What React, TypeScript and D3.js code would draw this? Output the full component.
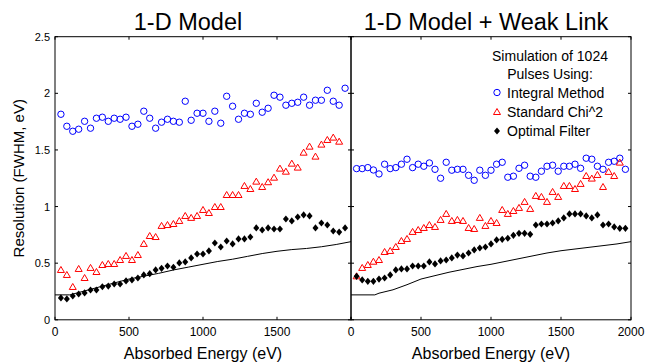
import React from "react";
import * as d3 from "d3";

// energies of the simulated pulses (eV)
const energies = [
  40, 80, 120, 160, 200, 240, 280, 320, 360, 400, 440, 480, 520, 560, 600, 640, 680,
  720, 760, 800, 840, 880, 920, 960, 1000, 1040, 1080, 1120, 1160, 1200, 1240, 1280,
  1320, 1360, 1400, 1440, 1480, 1520, 1560, 1600, 1640, 1680, 1720, 1760, 1800, 1840,
  1880, 1920, 1960,
];

// 1-D model
const leftIntegral = [
  1.815, 1.709, 1.665, 1.683, 1.753, 1.692, 1.78, 1.789, 1.753, 1.78, 1.771, 1.789, 1.709,
  1.727, 1.842, 1.78, 1.692, 1.745, 1.771, 1.753, 1.745, 1.93, 1.762, 1.824, 1.824, 1.753,
  1.842, 1.736, 1.974, 1.886, 1.771, 1.824, 1.815, 1.912, 1.833, 1.868, 1.983, 1.966, 1.895,
  1.912, 1.921, 1.966, 1.895, 1.939, 1.939, 2.027, 1.93, 1.895, 2.045,
];
const leftChi = [
  0.44, 0.396, 0.29, 0.449, 0.369, 0.458, 0.422, 0.484, 0.493, 0.493, 0.528, 0.564, 0.528,
  0.572, 0.67, 0.74, 0.731, 0.829, 0.837, 0.846, 0.873, 0.917, 0.9, 0.917, 0.97, 0.943,
  0.996, 0.996, 1.102, 1.102, 1.102, 1.182, 1.155, 1.22, 1.173, 1.215, 1.255, 1.335, 1.308,
  1.379, 1.344, 1.476, 1.529, 1.441, 1.547, 1.588, 1.609, 1.573,
];
const leftOptimal = [
  0.193, 0.184, 0.21, 0.228, 0.237, 0.263, 0.263, 0.292, 0.298, 0.316, 0.316, 0.343, 0.352,
  0.369, 0.396, 0.407, 0.44, 0.455, 0.475, 0.464, 0.502, 0.511, 0.546, 0.581, 0.581, 0.608,
  0.678, 0.643, 0.696, 0.67, 0.714, 0.714, 0.731, 0.811, 0.793, 0.811, 0.802, 0.802, 0.89,
  0.873, 0.908, 0.926, 0.917, 0.811, 0.855, 0.837, 0.784, 0.775, 0.811,
];
const leftModelE = [0, 100, 200, 300, 400, 500, 600, 700, 800, 900, 1000, 1100, 1200, 1300, 1400, 1500, 1600, 1700, 1800, 1900, 2000];
const leftModel = [0.22, 0.22, 0.255, 0.29, 0.325, 0.36, 0.385, 0.41, 0.44, 0.465, 0.49, 0.515, 0.535, 0.56, 0.585, 0.605, 0.62, 0.63, 0.645, 0.665, 0.69];

// 1-D model + weak link
const rightIntegral = [
  1.335, 1.335, 1.344, 1.323, 1.288, 1.374, 1.335, 1.344, 1.374, 1.418, 1.344, 1.374, 1.356,
  1.385, 1.329, 1.25, 1.391, 1.321, 1.329, 1.329, 1.276, 1.232, 1.321, 1.276, 1.321, 1.374,
  1.391, 1.259, 1.268, 1.338, 1.365, 1.268, 1.259, 1.312, 1.356, 1.365, 1.312, 1.356, 1.356,
  1.374, 1.338, 1.427, 1.418, 1.356, 1.329, 1.391, 1.4, 1.427, 1.329,
];
const rightChi = [
  0.384, 0.458, 0.484, 0.513, 0.528, 0.599, 0.608, 0.643, 0.696, 0.714, 0.776, 0.793, 0.811,
  0.837, 0.82, 0.882, 0.935, 0.873, 0.882, 0.873, 0.811, 0.802, 0.9, 0.829, 0.873, 0.855,
  0.97, 0.935, 0.961, 0.988, 1.041, 0.979, 1.094, 1.085, 1.041, 1.129, 1.085, 1.182, 1.182,
  1.155, 1.2, 1.27, 1.247, 1.279, 1.173, 1.306, 1.27, 1.388,
];
const rightOptimal = [
  0.384, 0.352, 0.34, 0.34, 0.36, 0.369, 0.396, 0.44, 0.449, 0.449, 0.475, 0.475, 0.475,
  0.511, 0.493, 0.52, 0.528, 0.546, 0.572, 0.564, 0.59, 0.617, 0.634, 0.643, 0.67, 0.705,
  0.711, 0.72, 0.746, 0.764, 0.764, 0.755, 0.837, 0.846, 0.846, 0.855, 0.873, 0.9, 0.935,
  0.935, 0.935, 0.917, 0.9, 0.926, 0.837, 0.846, 0.82, 0.808, 0.808,
];
const rightModelE = [0, 100, 170, 200, 300, 400, 500, 600, 700, 800, 900, 1000, 1100, 1200, 1300, 1400, 1500, 1600, 1700, 1800, 1900, 2000];
const rightModel = [0.22, 0.22, 0.22, 0.235, 0.265, 0.31, 0.36, 0.39, 0.42, 0.445, 0.47, 0.49, 0.515, 0.54, 0.565, 0.59, 0.61, 0.625, 0.64, 0.655, 0.67, 0.69];

const yTicks = [0, 0.5, 1, 1.5, 2, 2.5];
const xTicks = [0, 500, 1000, 1500, 2000];
const leftXLabels = ["0", "500", "1000", "1500", ""];
const rightXLabels = ["0", "500", "1000", "1500", "2000"];
const legendLines = ["Integral Method", "Standard Chi^2", "Optimal Filter"];

const W = 646, H = 363;
const top = 36.7, bottom = 319.8;
const font = "'Liberation Sans', Arial, Helvetica, sans-serif";

const y = d3.scaleLinear().domain([0, 2.5]).range([bottom, top]);

const circle = (cx: number, cy: number, k: string) => (
  <circle key={k} cx={cx} cy={cy} r={3.2} fill="none" stroke="#0000ff" strokeWidth={1} />
);
const tri = (cx: number, cy: number, k: string) => (
  <path key={k} d={`M${cx},${cy - 3.5}L${cx + 3.5},${cy + 2.5}L${cx - 3.5},${cy + 2.5}Z`} fill="none" stroke="#ff0000" strokeWidth={1} />
);
const dia = (cx: number, cy: number, k: string) => (
  <path key={k} d={`M${cx},${cy - 3.6}L${cx + 3},${cy}L${cx},${cy + 3.6}L${cx - 3},${cy}Z`} fill="#000" />
);

function Panel(props: {
  x0: number; x1: number; title: string; titleX: number; labels: string[];
  integral: number[]; chi: number[]; optimal: number[]; modelE: number[]; model: number[];
  yLabels: boolean;
}) {
  const x = d3.scaleLinear().domain([0, 2000]).range([props.x0, props.x1]);
  const line = d3.line<number>().x((_, i) => x(props.modelE[i])).y((d) => y(d));
  const tl = 3;
  return (
    <g>
      <path d={line(props.model) || ""} fill="none" stroke="#000" strokeWidth={1} />
      {props.integral.map((v, i) => circle(x(energies[i]), y(v), "c" + i))}
      {props.chi.map((v, i) => tri(x(energies[i]), y(v), "t" + i))}
      {props.optimal.map((v, i) => dia(x(energies[i]), y(v), "d" + i))}
      <rect x={props.x0} y={top} width={props.x1 - props.x0} height={bottom - top} fill="none" stroke="#000" strokeWidth={1} />
      {xTicks.map((t, i) => (
        <g key={"xt" + t}>
          <line x1={x(t)} x2={x(t)} y1={bottom} y2={bottom - tl} stroke="#000" />
          <line x1={x(t)} x2={x(t)} y1={top} y2={top + tl} stroke="#000" />
          <text x={x(t)} y={336} fontSize={12} textAnchor="middle" fontFamily={font}>{props.labels[i]}</text>
        </g>
      ))}
      {yTicks.map((t) => (
        <g key={"yt" + t}>
          <line x1={props.x0} x2={props.x0 + tl} y1={y(t)} y2={y(t)} stroke="#000" />
          <line x1={props.x1} x2={props.x1 - tl} y1={y(t)} y2={y(t)} stroke="#000" />
          {props.yLabels && (
            <text x={props.x0 - 5} y={y(t) + 4} fontSize={11} textAnchor="end" fontFamily={font}>{String(t)}</text>
          )}
        </g>
      ))}
      <text x={props.titleX} y={30} fontSize={23.5} textAnchor="middle" fontFamily={font}>{props.title}</text>
      <text x={(props.x0 + props.x1) / 2} y={359} fontSize={16} textAnchor="middle" fontFamily={font}>Absorbed Energy (eV)</text>
    </g>
  );
}

export default function App() {
  return (
    <svg width={W} height={H} style={{ position: "absolute", left: 0, top: 0, background: "#fff" }}>
      <rect width={W} height={H} fill="#fff" />
      <Panel x0={55} x1={351} title="1-D Model" titleX={188} labels={leftXLabels}
        integral={leftIntegral} chi={leftChi} optimal={leftOptimal} modelE={leftModelE} model={leftModel} yLabels={true} />
      <Panel x0={351} x1={631} title="1-D Model + Weak Link" titleX={486} labels={rightXLabels}
        integral={rightIntegral} chi={rightChi} optimal={rightOptimal} modelE={rightModelE} model={rightModel} yLabels={false} />
      <text transform={`translate(24,${(top + bottom) / 2}) rotate(-90)`} fontSize={15} textAnchor="middle" fontFamily={font}>
        Resolution (FWHM, eV)
      </text>
      <g fontFamily={font} fontSize={14}>
        <text x={550} y={61} textAnchor="middle">Simulation of 1024</text>
        <text x={550} y={79} textAnchor="middle">Pulses Using:</text>
        {legendLines.map((s, i) => (
          <text key={s} x={507} y={97.5 + i * 19} >{s}</text>
        ))}
      </g>
      {circle(497, 92.5, "lc")}
      {tri(497, 112, "lt")}
      {dia(497, 131, "ld")}
    </svg>
  );
}
